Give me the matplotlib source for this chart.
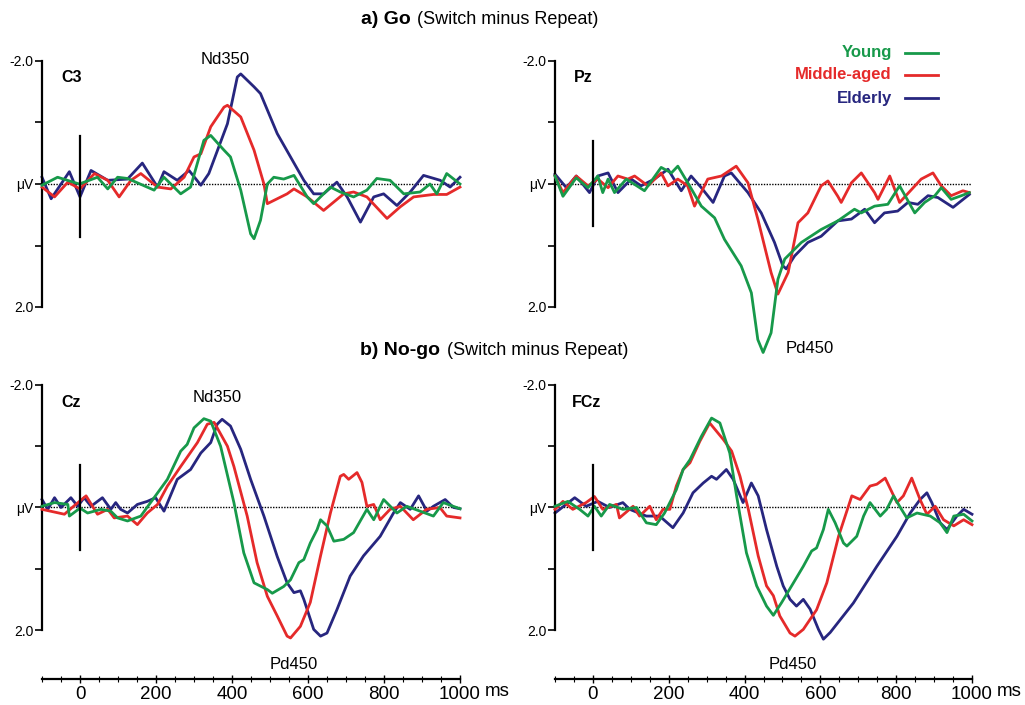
import matplotlib
matplotlib.use("Agg")
import matplotlib.pyplot as plt
from matplotlib.ticker import MultipleLocator, FixedLocator

plt.rcParams['font.family'] = ['Liberation Sans', 'DejaVu Sans']

GREEN = '#17994a'
RED = '#e52a2a'
BLUE = '#27267f'

groups = ['Young', 'Middle-aged', 'Elderly']

# ---------------- C3 (Go) ----------------
c3_young_t = [-100, -59, -2, 46, 73, 99, 125, 195, 221, 265, 291, 326, 344, 379, 396, 423, 449, 458, 475, 493, 510, 536, 563, 598, 615, 659, 685, 720, 755, 781, 816, 852, 895, 921, 939, 965, 1000]
c3_young_v = [0.02, -0.11, 0.0, -0.11, 0.08, -0.11, -0.09, 0.10, -0.11, 0.16, 0.05, -0.71, -0.79, -0.55, -0.44, 0.10, 0.81, 0.89, 0.59, 0.0, -0.11, -0.08, -0.14, 0.21, 0.32, 0.05, 0.13, 0.21, 0.10, -0.09, -0.06, 0.16, 0.13, 0.0, 0.16, -0.17, 0.0]
c3_mid_t = [-100, -67, -32, 0, 38, 73, 103, 134, 160, 204, 239, 274, 300, 318, 344, 379, 388, 423, 458, 484, 493, 545, 563, 598, 641, 694, 720, 755, 808, 843, 878, 930, 965, 1000]
c3_mid_v = [0.05, 0.21, -0.03, 0.08, -0.17, -0.06, 0.21, -0.06, -0.17, 0.05, 0.08, -0.11, -0.44, -0.49, -0.93, -1.25, -1.28, -1.09, -0.55, 0.0, 0.32, 0.16, 0.08, 0.21, 0.43, 0.16, 0.13, 0.21, 0.56, 0.37, 0.21, 0.17, 0.17, 0.05]
c3_eld_t = [-100, -76, -28, 0, 29, 73, 125, 164, 204, 221, 256, 287, 318, 339, 388, 414, 423, 458, 475, 519, 554, 589, 615, 641, 676, 703, 738, 773, 799, 834, 869, 904, 948, 974, 1000]
c3_eld_v = [-0.11, 0.24, -0.20, 0.21, -0.22, -0.06, -0.08, -0.34, 0.05, -0.20, -0.06, -0.22, 0.02, -0.17, -0.98, -1.74, -1.79, -1.58, -1.47, -0.82, -0.44, -0.06, 0.16, 0.16, -0.03, 0.21, 0.62, 0.21, 0.16, 0.35, 0.13, -0.14, -0.06, 0.05, -0.11]

# ---------------- Pz (Go) ----------------
pz_young_t = [-100, -79, -44, -13, 13, 26, 40, 57, 88, 136, 180, 207, 224, 255, 286, 321, 347, 391, 418, 435, 449, 470, 488, 506, 550, 602, 646, 690, 708, 743, 778, 809, 849, 875, 902, 919, 945, 972, 993]
pz_young_v = [-0.13, 0.20, -0.10, 0.06, -0.13, 0.14, -0.08, 0.14, -0.08, 0.11, -0.27, -0.18, -0.29, 0.03, 0.36, 0.55, 0.90, 1.33, 1.77, 2.53, 2.74, 2.42, 1.55, 1.22, 0.95, 0.74, 0.60, 0.41, 0.47, 0.36, 0.33, 0.03, 0.47, 0.30, 0.19, 0.06, 0.25, 0.19, 0.14]
pz_mid_t = [-100, -79, -44, -13, 13, 40, 66, 92, 110, 145, 180, 198, 224, 250, 268, 303, 339, 378, 409, 435, 470, 488, 515, 541, 567, 602, 620, 646, 655, 682, 708, 743, 752, 783, 809, 866, 897, 919, 945, 976, 993]
pz_mid_v = [-0.13, 0.14, -0.13, 0.03, -0.08, 0.06, -0.13, -0.08, -0.13, 0.03, -0.18, 0.03, -0.08, 0.03, 0.36, -0.08, -0.13, -0.29, -0.02, 0.57, 1.44, 1.79, 1.44, 0.63, 0.47, 0.03, -0.05, 0.20, 0.30, -0.02, -0.18, 0.14, 0.25, -0.13, 0.30, -0.08, -0.18, 0.03, 0.19, 0.11, 0.14]
pz_eld_t = [-100, -70, -44, -9, 13, 40, 66, 101, 127, 162, 198, 233, 259, 286, 317, 347, 365, 409, 444, 479, 501, 510, 532, 567, 602, 646, 682, 717, 743, 769, 804, 831, 857, 884, 910, 950, 993]
pz_eld_v = [-0.16, 0.06, -0.13, 0.14, -0.13, -0.18, 0.14, -0.08, 0.03, -0.08, -0.24, 0.11, -0.13, 0.06, 0.30, -0.13, -0.18, 0.14, 0.47, 0.95, 1.33, 1.38, 1.17, 0.95, 0.85, 0.60, 0.57, 0.41, 0.63, 0.47, 0.44, 0.30, 0.33, 0.19, 0.22, 0.38, 0.17]

# ---------------- Cz (No-go) ----------------
cz_young_t = [-100, -67, -32, -28, 0, 20, 55, 81, 99, 125, 160, 195, 230, 265, 282, 300, 326, 344, 370, 405, 431, 458, 493, 506, 536, 554, 576, 589, 606, 624, 633, 650, 668, 694, 720, 755, 773, 799, 834, 860, 895, 930, 956, 982, 1000]
cz_young_v = [-0.02, -0.08, -0.05, 0.14, 0.01, 0.09, 0.03, 0.06, 0.17, 0.22, 0.14, -0.16, -0.46, -0.92, -1.03, -1.30, -1.45, -1.41, -1.0, -0.08, 0.74, 1.23, 1.34, 1.40, 1.29, 1.18, 0.90, 0.85, 0.58, 0.36, 0.20, 0.30, 0.55, 0.52, 0.41, 0.03, 0.20, -0.13, 0.09, -0.02, 0.06, 0.14, -0.08, -0.02, 0.02]
cz_mid_t = [-100, -41, -15, 16, 46, 73, 90, 125, 151, 177, 204, 230, 265, 309, 335, 353, 388, 405, 440, 466, 493, 519, 545, 554, 580, 606, 633, 659, 685, 694, 707, 729, 742, 755, 773, 790, 816, 843, 877, 912, 947, 965, 1000]
cz_mid_v = [0.03, 0.11, -0.03, -0.19, 0.11, 0.03, 0.17, 0.14, 0.28, 0.09, -0.05, -0.35, -0.67, -1.06, -1.36, -1.39, -1.0, -0.67, 0.14, 0.90, 1.45, 1.77, 2.10, 2.13, 1.94, 1.55, 0.79, 0.09, -0.51, -0.54, -0.46, -0.57, -0.41, -0.02, -0.05, 0.20, 0.03, -0.02, 0.20, 0.03, 0.0, 0.14, 0.17]
cz_eld_t = [-100, -85, -67, -50, -24, -6, 11, 29, 59, 81, 94, 107, 125, 151, 177, 199, 221, 256, 291, 318, 344, 361, 374, 396, 423, 449, 484, 519, 545, 563, 580, 589, 615, 633, 650, 676, 711, 746, 790, 825, 843, 869, 891, 913, 930, 961, 983, 1000]
cz_eld_v = [-0.13, 0.03, -0.16, 0.0, -0.16, -0.02, -0.16, -0.02, -0.16, 0.03, -0.08, 0.03, 0.09, -0.05, -0.10, -0.16, 0.06, -0.46, -0.62, -0.89, -1.06, -1.36, -1.44, -1.33, -0.95, -0.46, 0.14, 0.80, 1.23, 1.39, 1.36, 1.50, 1.99, 2.10, 2.05, 1.67, 1.12, 0.79, 0.47, 0.09, -0.08, 0.03, -0.19, 0.06, -0.02, -0.13, 0.0, 0.02]

# ---------------- FCz (No-go) ----------------
fcz_young_t = [-100, -66, -35, -13, 4, 22, 44, 79, 115, 141, 167, 189, 220, 238, 256, 286, 313, 335, 361, 379, 405, 432, 458, 476, 498, 529, 555, 577, 590, 608, 621, 639, 661, 670, 696, 714, 731, 758, 775, 793, 811, 828, 855, 890, 916, 934, 952, 978, 1000]
fcz_young_v = [-0.02, -0.10, 0.03, 0.14, -0.02, 0.14, -0.05, 0.03, 0.0, 0.25, 0.28, 0.09, -0.29, -0.62, -0.78, -1.16, -1.46, -1.38, -0.89, -0.19, 0.74, 1.28, 1.61, 1.76, 1.55, 1.23, 0.96, 0.71, 0.66, 0.36, 0.03, 0.25, 0.58, 0.63, 0.47, 0.14, -0.08, 0.14, 0.03, -0.19, 0.0, 0.17, 0.09, 0.14, 0.25, 0.41, 0.14, 0.11, 0.22]
fcz_mid_t = [-100, -79, -53, -18, 4, 26, 62, 70, 106, 123, 150, 167, 185, 203, 220, 238, 256, 282, 308, 344, 366, 388, 410, 436, 458, 476, 493, 520, 533, 555, 590, 617, 648, 683, 705, 731, 749, 771, 802, 819, 841, 863, 881, 903, 925, 952, 978, 1000]
fcz_mid_v = [0.03, -0.10, 0.03, -0.08, -0.18, 0.03, -0.05, 0.17, -0.02, 0.14, -0.02, 0.20, 0.03, 0.03, -0.35, -0.62, -0.73, -1.08, -1.38, -1.11, -0.92, -0.51, 0.03, 0.79, 1.28, 1.44, 1.77, 2.05, 2.10, 1.99, 1.67, 1.23, 0.47, -0.19, -0.13, -0.35, -0.38, -0.48, -0.08, -0.19, -0.48, -0.13, 0.11, -0.02, 0.20, 0.30, 0.20, 0.28]
fcz_eld_t = [-100, -48, -18, 13, 44, 79, 97, 141, 176, 211, 238, 264, 291, 313, 326, 352, 370, 396, 418, 436, 458, 485, 502, 520, 537, 555, 573, 595, 608, 626, 687, 749, 802, 837, 863, 881, 894, 916, 934, 960, 978, 1000]
fcz_eld_v = [0.09, -0.16, -0.02, -0.10, 0.0, -0.08, 0.03, 0.14, 0.14, 0.33, 0.09, -0.24, -0.40, -0.51, -0.46, -0.62, -0.46, -0.08, -0.40, -0.19, 0.36, 0.96, 1.28, 1.50, 1.61, 1.50, 1.66, 1.99, 2.15, 2.04, 1.56, 0.96, 0.47, 0.09, -0.13, -0.24, -0.08, 0.25, 0.36, 0.14, 0.03, 0.11]

panels = [
    dict(name='C3', rect=[42/1025, 1-307/705, 418/1025, 246/705], xaxis=False, vline=(-0.78, 0.86),
         data=[(c3_young_t, c3_young_v), (c3_mid_t, c3_mid_v), (c3_eld_t, c3_eld_v)]),
    dict(name='Pz', rect=[555/1025, 1-307/705, 417/1025, 246/705], xaxis=False, vline=(-0.7, 0.68),
         data=[(pz_young_t, pz_young_v), (pz_mid_t, pz_mid_v), (pz_eld_t, pz_eld_v)]),
    dict(name='Cz', rect=[42/1025, 1-630/705, 418/1025, 245/705], xaxis=True, vline=(-0.7, 0.7),
         data=[(cz_young_t, cz_young_v), (cz_mid_t, cz_mid_v), (cz_eld_t, cz_eld_v)]),
    dict(name='FCz', rect=[555/1025, 1-630/705, 417/1025, 245/705], xaxis=True, vline=(-0.7, 0.7),
         data=[(fcz_young_t, fcz_young_v), (fcz_mid_t, fcz_mid_v), (fcz_eld_t, fcz_eld_v)]),
]

colors = [GREEN, RED, BLUE]

fig = plt.figure(figsize=(10.25, 7.05), dpi=100)
axes = {}
for p in panels:
    ax = fig.add_axes(p['rect'])
    axes[p['name']] = ax
    ax.set_xlim(-100, 1000)
    ax.set_ylim(2.0, -2.0)
    ax.patch.set_visible(False)
    for s in ['top', 'right']:
        ax.spines[s].set_visible(False)
    ax.spines['left'].set_linewidth(1.6)
    ax.yaxis.set_major_locator(FixedLocator([-2, -1, 0, 1, 2]))
    ax.set_yticklabels(['-2.0', '', 'μV', '', '2.0'])
    ax.tick_params(axis='y', direction='out', length=5, width=1.2, labelsize=10, pad=1)
    if p['xaxis']:
        ax.spines['bottom'].set_position(('outward', 35))
        ax.spines['bottom'].set_linewidth(1.6)
        ax.xaxis.set_major_locator(FixedLocator([0, 200, 400, 600, 800, 1000]))
        ax.xaxis.set_minor_locator(MultipleLocator(50))
        ax.tick_params(axis='x', which='major', direction='inout', length=6, width=1.0, labelsize=13.5, pad=2)
        ax.tick_params(axis='x', which='minor', direction='inout', length=4, width=0.8)
    else:
        ax.spines['bottom'].set_visible(False)
        ax.set_xticks([])
    # zero dotted line and stimulus onset marker
    ax.plot([-100, 1000], [0, 0], color='black', linestyle=(0, (1, 1)), lw=1.0, zorder=1)
    ax.plot([0, 0], list(p['vline']), color='black', lw=1.6, zorder=5)
    zs = [4, 3, 2]
    for (t, v), c, z in zip(p['data'], colors, zs):
        ax.plot(t, v, color=c, lw=2.0, zorder=z, clip_on=False, solid_joinstyle='round')
    ax.text(-50 if p['name'] != 'FCz' else -55, -1.73 if p['name'] in ('C3', 'Pz') else -1.72, p['name'],
            fontsize=11.5, fontweight='bold', ha='left', va='center')

# "ms" unit after the last tick label
fig.text(485/1025, 1 - 691/705, 'ms', fontsize=13.5, ha='left', va='center')
fig.text(997/1025, 1 - 691/705, 'ms', fontsize=13.5, ha='left', va='center')

# component annotations
axes['C3'].text(383, -2.03, 'Nd350', fontsize=12, ha='center', va='center')
axes['Pz'].text(572, 2.68, 'Pd450', fontsize=12, ha='center', va='center')
axes['Cz'].text(362, -1.8, 'Nd350', fontsize=12, ha='center', va='center')
axes['Cz'].text(562, 2.57, 'Pd450', fontsize=12, ha='center', va='center')
axes['FCz'].text(528, 2.57, 'Pd450', fontsize=12, ha='center', va='center')

# legend
leg_y = [53, 75, 98]
for g, c, y in zip(groups, colors, leg_y):
    fig.text(892/1025, 1 - y/705, g, color=c, fontsize=12, fontweight='bold', ha='right', va='center')
    fig.add_artist(plt.Line2D([905/1025, 938/1025], [1 - y/705, 1 - y/705], color=c, lw=2.0))

# section titles
fig.text(411/1025, 1 - 20/705, 'a) Go', fontsize=14, fontweight='bold', ha='right', va='center')
fig.text(417/1025, 1 - 20/705, '(Switch minus Repeat)', fontsize=13, ha='left', va='center')
fig.text(440/1025, 1 - 350/705, 'b) No-go', fontsize=14, fontweight='bold', ha='right', va='center')
fig.text(447/1025, 1 - 350/705, '(Switch minus Repeat)', fontsize=13, ha='left', va='center')

fig.savefig('out.png', dpi=100)
